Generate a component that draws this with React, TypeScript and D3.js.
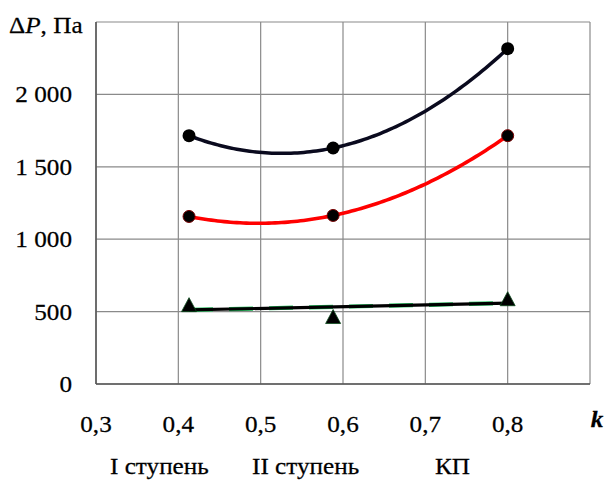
import React from "react";
import * as d3 from "d3";

const kValues = [0.413, 0.588, 0.8];
const seriesTop = [1715, 1630, 2316];
const seriesRed = [1157, 1164, 1715];
const seriesTri = [548, 466, 589];
const xTicks = [0.3, 0.4, 0.5, 0.6, 0.7, 0.8, 0.9];
const xTickLabels = [0.3, 0.4, 0.5, 0.6, 0.7, 0.8];
const yTicks = [0, 500, 1000, 1500, 2000, 2500];
const yTickLabels = [0, 500, 1000, 1500, 2000];
const stageLabels = ["I ступень", "II ступень", "КП"];
const stagePos = [110, 252, 435];

const W = 605, H = 481;
const M = { left: 96, right: 590, top: 22, bottom: 384 };
const FONT = "'Times New Roman', 'Liberation Serif', serif";
const SX = 1.05;

const locale = d3.formatLocale({ decimal: ",", thousands: " ", grouping: [3], currency: ["", ""] });
const fmtY = locale.format(",d");
const fmtX = locale.format(".1f");

function quad(xs: number[], ys: number[]) {
  return (x: number) => {
    let s = 0;
    for (let i = 0; i < 3; i++) {
      let t = ys[i];
      for (let j = 0; j < 3; j++) if (j !== i) t *= (x - xs[j]) / (xs[i] - xs[j]);
      s += t;
    }
    return s;
  };
}

function linReg(xs: number[], ys: number[]) {
  const mx = d3.mean(xs)!, my = d3.mean(ys)!;
  let sxy = 0, sxx = 0;
  xs.forEach((x, i) => { sxy += (x - mx) * (ys[i] - my); sxx += (x - mx) ** 2; });
  const b = sxy / sxx;
  return (x: number) => my + b * (x - mx);
}

export default function App() {
  const x = d3.scaleLinear().domain([0.3, 0.9]).range([M.left, M.right]);
  const y = d3.scaleLinear().domain([0, 2500]).range([M.bottom, M.top]);
  const x0 = kValues[0], x1 = kValues[kValues.length - 1];
  const samples = d3.range(0, 101).map((i) => x0 + ((x1 - x0) * i) / 100);
  const line = d3.line<[number, number]>().x((d) => x(d[0])).y((d) => y(d[1]));
  const fTop = quad(kValues, seriesTop);
  const fRed = quad(kValues, seriesRed);
  const fTri = linReg(kValues, seriesTri);
  const topPath = line(samples.map((s) => [s, fTop(s)]))!;
  const redPath = line(samples.map((s) => [s, fRed(s)]))!;
  const triPath = line([[x0, fTri(x0)], [x1, fTri(x1)]])!;

  const txt = (content: React.ReactNode, tx: number, ty: number, anchor: string, extra: any = {}) => (
    <text transform={`translate(${tx},${ty}) scale(${SX},1)`} textAnchor={anchor} fontFamily={FONT} fontSize={24} fill="#000" stroke="#000" strokeWidth={0.25} {...extra}>
      {content}
    </text>
  );

  return (
    <svg width={W} height={H} style={{ position: "absolute", left: 0, top: 0, background: "#fff" }}>
      {xTicks.map((t) => (
        <line key={"gx" + t} x1={x(t)} x2={x(t)} y1={M.top} y2={M.bottom} stroke="#8a8a8a" strokeWidth={1.2} />
      ))}
      {yTicks.map((t) => (
        <line key={"gy" + t} x1={M.left} x2={M.right} y1={y(t)} y2={y(t)} stroke="#8a8a8a" strokeWidth={1.2} />
      ))}
      <line x1={M.left} x2={M.left} y1={M.top} y2={M.bottom} stroke="#555" strokeWidth={1.5} />
      <line x1={M.left} x2={M.right} y1={M.bottom} y2={M.bottom} stroke="#555" strokeWidth={1.5} />

      <path d={topPath} fill="none" stroke="#0a0a1e" strokeWidth={3.5} />
      <path d={redPath} fill="none" stroke="#ff0000" strokeWidth={3.6} />
      <path d={triPath} fill="none" stroke="#22c55e" strokeWidth={4.2} strokeDasharray="24 16" />
      <path d={triPath} fill="none" stroke="#000" strokeWidth={3.2} />

      {kValues.map((k, i) => (
        <circle key={"ct" + i} cx={x(k)} cy={y(seriesTop[i])} r={6.5} fill="#000" />
      ))}
      {kValues.map((k, i) => (
        <circle key={"cr" + i} cx={x(k)} cy={y(seriesRed[i])} r={6} fill="#000" stroke="#700" strokeWidth={1} />
      ))}
      {kValues.map((k, i) => (
        <path key={"tr" + i} d="M0,-7 L7.5,7 L-7.5,7 Z" transform={`translate(${x(k)},${y(seriesTri[i])})`} fill="#000" stroke="#0a4a1a" strokeWidth={0.8} />
      ))}

      {yTickLabels.map((t) => <g key={"yl" + t}>{txt(fmtY(t), 72, y(t) + 8, "end")}</g>)}
      {xTickLabels.map((t) => <g key={"xl" + t}>{txt(fmtX(t), x(t), 432, "middle")}</g>)}
      {txt("k", 597, 427, "middle", { fontStyle: "italic", fontWeight: "bold" })}
      {stageLabels.map((s, i) => <g key={"sl" + i}>{txt(s, stagePos[i], 474, "start")}</g>)}
      {txt(<>Δ<tspan fontStyle="italic">P</tspan>, Па</>, 9, 33, "start")}
    </svg>
  );
}
